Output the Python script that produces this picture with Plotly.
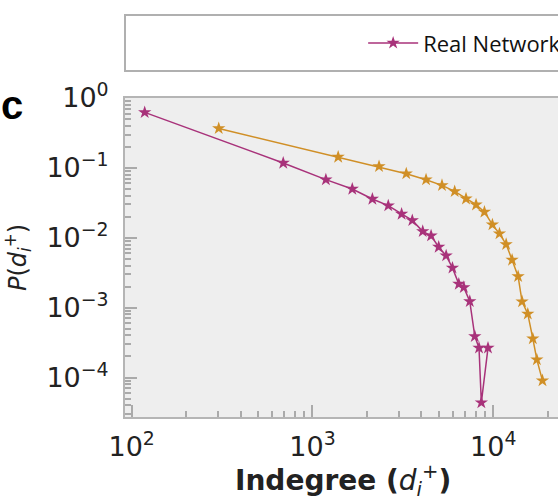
import plotly.graph_objects as go

# Real network (magenta)
real_x = [118, 689, 1186, 1660, 2144, 2625, 3111, 3565, 4072, 4529, 4990, 5486, 5946,
          6447, 6872, 7415, 7904, 8340, 8590, 9350]
real_y = [0.622, 0.1175, 0.0678, 0.0499, 0.0359, 0.0288, 0.0219, 0.0177, 0.01235, 0.0107,
          0.00738, 0.00554, 0.00370, 0.00218, 0.00195, 0.00123, 0.000388, 0.000265,
          0.0000438, 0.000265]

# Second series (orange)
other_x = [303, 1387, 2334, 3302, 4248, 5204, 6117, 7066, 8031, 8933, 9890, 10820,
           11780, 12710, 13720, 14430, 15520, 16550, 17420, 18710]
other_y = [0.367, 0.143, 0.105, 0.0826, 0.0678, 0.0562, 0.0461, 0.0362, 0.0297, 0.0234,
           0.0154, 0.01145, 0.00805, 0.00481, 0.00280, 0.00122, 0.000813, 0.000360,
           0.000180, 0.0000904]

x_tickvals = [100, 1000, 10000]
x_ticktext = ["10<sup>2</sup>", "10<sup>3</sup>", "10<sup>4</sup>"]
y_tickvals = [1, 0.1, 0.01, 0.001, 0.0001]
y_ticktext = ["10<sup>0</sup>", "10<sup>−1</sup>", "10<sup>−2</sup>", "10<sup>−3</sup>", "10<sup>−4</sup>"]

x_title = "<b>Indegree (</b><i>d</i><sub><i>i</i></sub><sup>+</sup><b>)</b>"
y_title = "<i>P</i>(<i>d</i><sub><i>i</i></sub><sup>+</sup>)"

MAGENTA = "#a8327a"
ORANGE = "#d08f26"

x_minor = [m * 10 ** e for e in range(1, 5) for m in range(2, 10)]
y_minor = [m * 10.0 ** e for e in range(-5, 0) for m in range(2, 10)]

fig = go.Figure()
fig.add_trace(go.Scatter(
    x=other_x, y=other_y, mode="lines+markers", name="Random",
    line=dict(color=ORANGE, width=1.5),
    marker=dict(symbol="star", size=10, color=ORANGE),
    showlegend=False,
))
fig.add_trace(go.Scatter(
    x=real_x, y=real_y, mode="lines+markers", name="Real Network",
    line=dict(color=MAGENTA, width=1.5),
    marker=dict(symbol="star", size=10, color=MAGENTA),
))

axis_common = dict(
    type="log", showgrid=False, zeroline=False, automargin=False,
    ticks="inside", ticklen=12, tickwidth=1.5, tickcolor="#aaaaaa",
    linecolor="#b5b5b5", linewidth=2, showline=True,
    tickfont=dict(family="DejaVu Sans", size=27, color="#222222"),
)

fig.update_xaxes(
    **axis_common, mirror=True,
    range=[1.963, 4.358],
    tickvals=x_tickvals, ticktext=x_ticktext, ticklabelstandoff=5,
    minor=dict(tickvals=x_minor, ticks="inside", ticklen=6, tickcolor="#aaaaaa", tickwidth=1.5),
)
fig.update_yaxes(
    **axis_common, mirror=False,
    range=[-4.565, 0],
    tickvals=y_tickvals, ticktext=y_ticktext, ticklabelstandoff=9,
    minor=dict(tickvals=y_minor, ticks="inside", ticklen=6, tickcolor="#aaaaaa", tickwidth=1.5),
    title=dict(text=y_title,
               font=dict(family="DejaVu Sans", size=24, color="#222222"), standoff=13),
)

fig.add_annotation(text=x_title, xref="paper", yref="paper", x=0.503, y=-0.2,
                   xanchor="center", yanchor="middle", showarrow=False,
                   font=dict(family="DejaVu Sans", size=28, color="#222222"))

fig.add_shape(type="rect", xref="paper", yref="paper", x0=0.0, x1=1.1, y0=1.0846, y1=1.26,
              line=dict(color="#b0b0b0", width=2), fillcolor="rgba(0,0,0,0)", layer="above")

fig.add_annotation(text="<b>c</b>", xref="paper", yref="paper", x=-0.29, y=0.978,
                   xanchor="left", yanchor="middle", showarrow=False,
                   font=dict(family="Liberation Sans", size=40, color="#000000"))

fig.update_layout(
    width=558, height=498,
    margin=dict(l=125, r=0, t=98, b=81, autoexpand=False),
    plot_bgcolor="#eeeeee", paper_bgcolor="#ffffff",
    legend=dict(x=0.55, y=1.172, xanchor="left", yanchor="middle", orientation="h",
                itemwidth=50,
                font=dict(family="Open Sans", size=22, color="#111111"),
                bgcolor="rgba(0,0,0,0)"),
)

fig.write_html("out.html", config={"displayModeBar": False},
               post_script="document.body.style.margin='0px';")
